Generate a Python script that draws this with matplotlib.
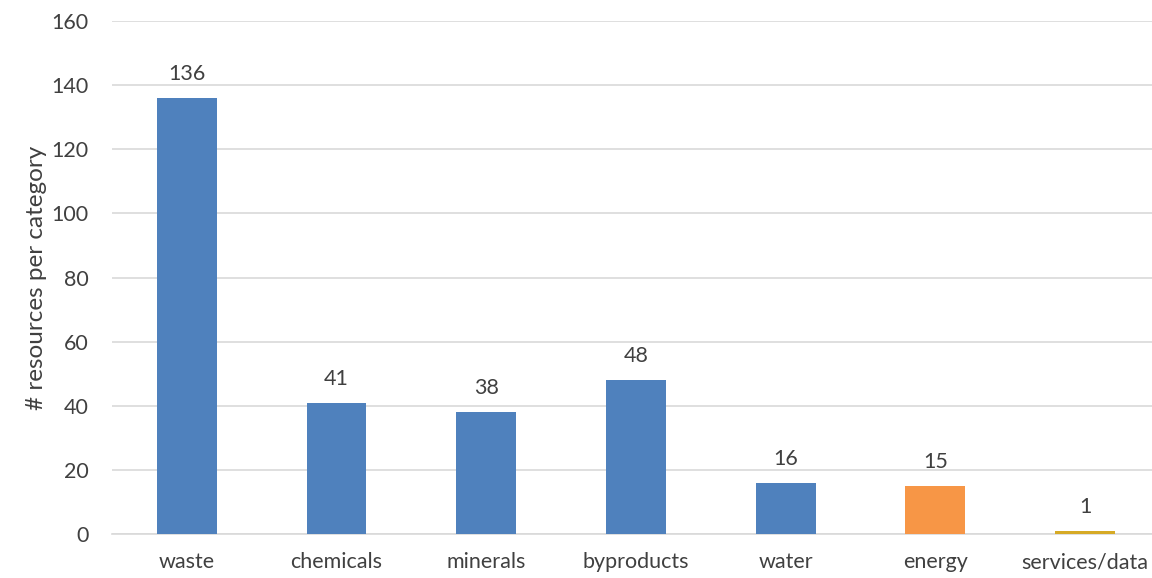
import matplotlib.pyplot as plt

# Data
categories = ["waste", "chemicals", "minerals", "byproducts", "water", "energy", "services/data"]
counts = [136, 41, 38, 48, 16, 15, 1]
bar_colors = ["#4F81BD"] * 5 + ["#F79646", "#D6AA26"]
yticks = [0, 20, 40, 60, 80, 100, 120, 140, 160]

plt.rcParams['font.family'] = ['Lato', 'DejaVu Sans']
text_color = "#404040"

fig = plt.figure(figsize=(11.52, 5.78), dpi=100)
ax = fig.add_axes([112 / 1152, 44 / 578, 1040 / 1152, 513 / 578])

x = range(len(categories))
bars = ax.bar(x, counts, width=0.4, color=bar_colors, zorder=3)

# Value labels above bars
for xi, v in zip(x, counts):
    ax.text(xi, v + 4.3, str(v), ha="center", va="bottom", fontsize=15.5, color=text_color)

ax.set_xlim(-0.5, -0.5 + 1040 / 149.7)
ax.set_ylim(0, 160)
ax.set_yticks(yticks)
ax.set_xticks(list(x))
ax.set_xticklabels(categories)
ax.grid(axis="y", color="#D9D9D9", linewidth=1.2, zorder=0)
ax.tick_params(axis="both", length=0, labelsize=15.5, labelcolor=text_color)
ax.tick_params(axis="x", pad=13)
ax.tick_params(axis="y", pad=17)
for side in ["top", "right", "left"]:
    ax.spines[side].set_visible(False)
ax.spines["bottom"].set_color("#D9D9D9")
ax.spines["bottom"].set_linewidth(1.2)

ax.set_ylabel("# resources per category", fontsize=17.5, color=text_color, labelpad=3)

fig.savefig("out.png", dpi=100)
